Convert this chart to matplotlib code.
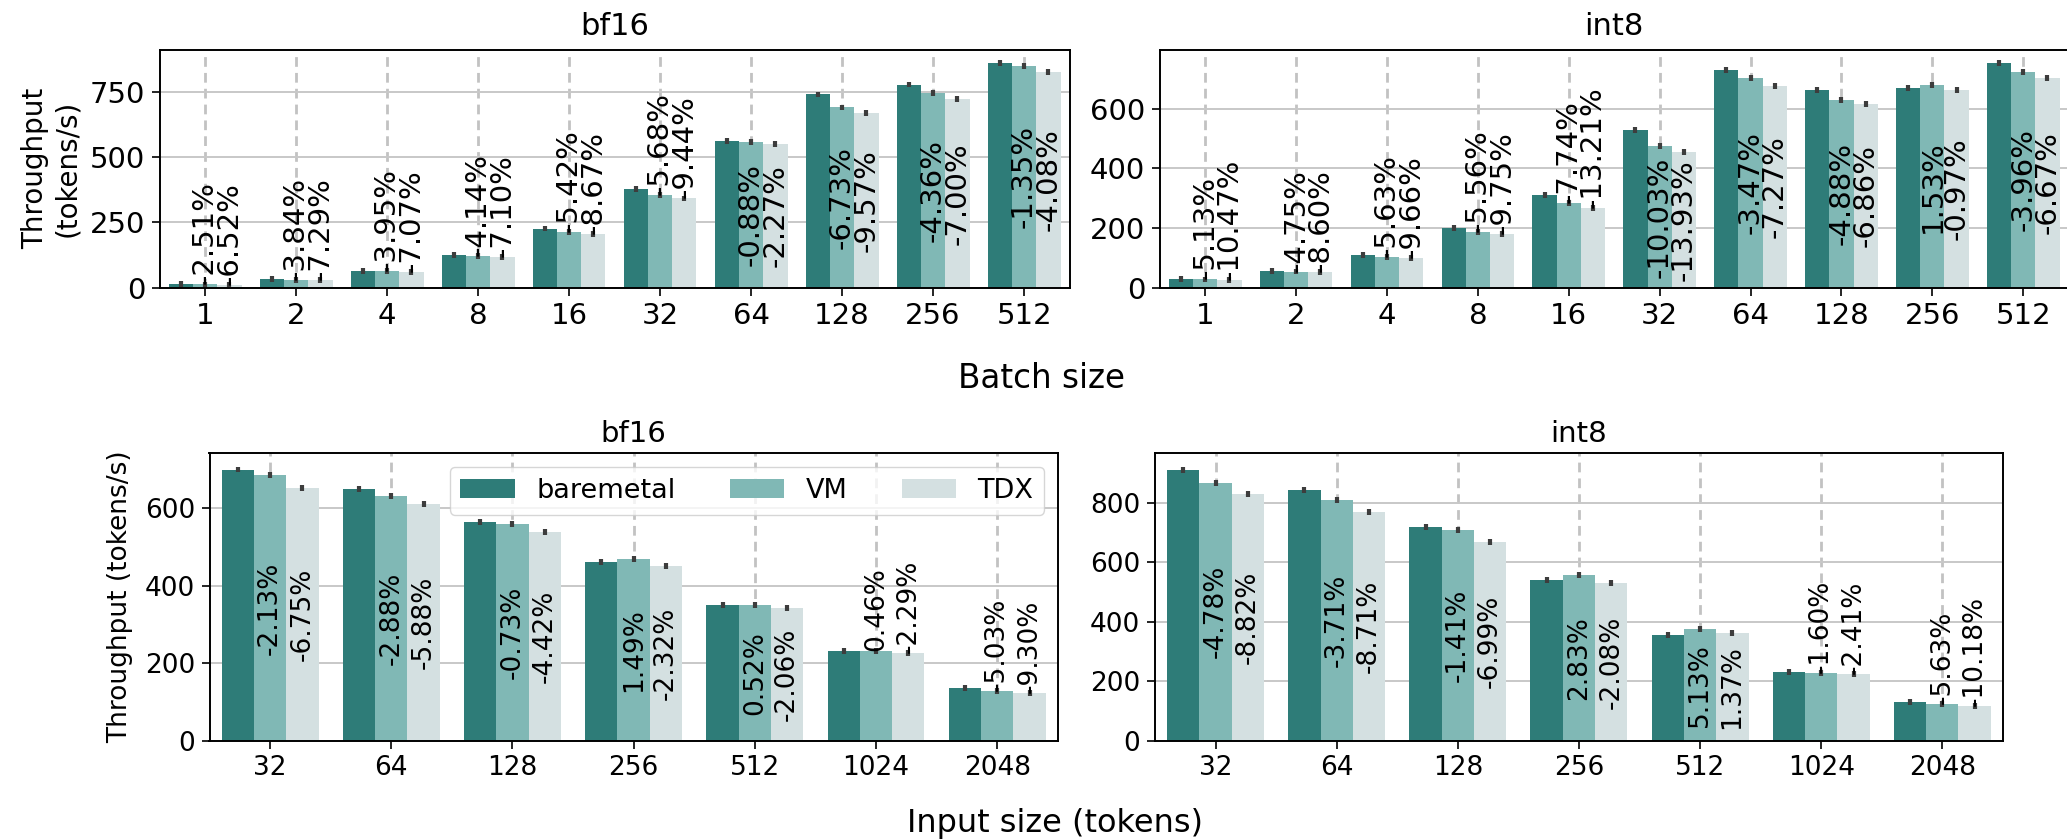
"""
Throughput of baremetal, VM and TDX runs for bf16 and int8 models.

Top row sweeps the batch size, bottom row sweeps the input length. VM and TDX
bars carry their overhead relative to baremetal as a rotated percentage.
"""
import matplotlib

matplotlib.use("Agg")
import matplotlib.pyplot as plt
import numpy as np

# Batch size sweep (tokens/s)
BATCH_SIZES = ["1", "2", "4", "8", "16", "32", "64", "128", "256", "512"]
BF16_BATCH_BARE = [13, 32, 65, 125, 226, 377, 561, 739, 777, 859]
BF16_BATCH_VM_PCT = [-2.51, -3.84, -3.95, -4.14, -5.42, -5.68, -0.88, -6.73, -4.36, -1.35]
BF16_BATCH_TDX_PCT = [-6.52, -7.29, -7.07, -7.10, -8.67, -9.44, -2.27, -9.57, -7.00, -4.08]
INT8_BATCH_BARE = [29, 57, 109.5, 199, 309.5, 528, 730, 663, 670, 754]
INT8_BATCH_VM_PCT = [-5.13, -4.75, -5.63, -5.56, -7.74, -10.03, -3.47, -4.88, 1.53, -3.96]
INT8_BATCH_TDX_PCT = [-10.47, -8.60, -9.66, -9.75, -13.21, -13.93, -7.27, -6.86, -0.97, -6.67]

# Input size sweep (tokens/s)
INPUT_SIZES = ["32", "64", "128", "256", "512", "1024", "2048"]
BF16_INPUT_BARE = [699, 649, 563, 461.5, 349, 231, 136]
BF16_INPUT_VM_PCT = [-2.13, -2.88, -0.73, 1.49, 0.52, 0.46, -5.03]
BF16_INPUT_TDX_PCT = [-6.75, -5.88, -4.42, -2.32, -2.06, -2.29, -9.30]
INT8_INPUT_BARE = [912, 842, 720.5, 542, 356, 231, 131]
INT8_INPUT_VM_PCT = [-4.78, -3.71, -1.41, 2.83, 5.13, -1.60, -5.63]
INT8_INPUT_TDX_PCT = [-8.82, -8.71, -6.99, -2.08, 1.37, -2.41, -10.18]

# half-width of the run-to-run spread drawn on every bar
CI_BF16_BATCH = 11
CI_INT8_BATCH = 10
CI_BF16_INPUT = 7.5
CI_INT8_INPUT = 10

SETUPS = ["baremetal", "VM", "TDX"]
COLORS = {"baremetal": "#2e7c78", "VM": "#80b8b5", "TDX": "#d4e0e1"}
ERR_COLOR = "#3d3d3d"
GRID_COLOR = "#c8c8c8"
DASH_COLOR = "#c2c2c2"

W, H = 2067, 840
# labels go inside the bar once it is taller than this (pixels)
INSIDE_MIN_PX = 100


def add_axes_px(fig, left, right, top, bottom):
    return fig.add_axes([left / W, 1 - bottom / H, (right - left) / W, (bottom - top) / H])


def draw_panel(ax, cats, bare, vm_pct, tdx_pct, ci, ymax, yticks, title,
               fs_tick, fs_note, fs_title, title_pad):
    vm = [b * (1 + p / 100) for b, p in zip(bare, vm_pct)]
    tdx = [b * (1 + p / 100) for b, p in zip(bare, tdx_pct)]
    series = [(bare, None), (vm, vm_pct), (tdx, tdx_pct)]

    x = np.arange(len(cats))
    w = 0.8 / 3
    ax_h_px = ax.get_position().height * H

    for i, (name, (vals, pcts)) in enumerate(zip(SETUPS, series)):
        xs = x + (i - 1) * w
        ax.bar(xs, vals, w, color=COLORS[name], label=name, linewidth=0, zorder=2)
        eb = ax.errorbar(xs, vals, yerr=ci, fmt="none", ecolor=ERR_COLOR,
                         elinewidth=3.0, capsize=0, zorder=3)
        eb[2][0].set_capstyle("butt")
        if pcts is None:
            continue
        for xi, v, p in zip(xs, vals, pcts):
            label = f"{p:.2f}%"
            if v / ymax * ax_h_px > INSIDE_MIN_PX:
                ax.text(xi, v / 2, label, rotation=90, ha="center", va="center",
                        fontsize=fs_note, zorder=4)
            else:
                ax.text(xi, v, label, rotation=90, ha="center", va="bottom",
                        fontsize=fs_note, zorder=4)

    ax.set_xlim(-0.5, len(cats) - 0.5)
    ax.set_ylim(0, ymax)
    ax.set_xticks(x)
    ax.set_xticklabels(cats)
    ax.set_yticks(yticks)
    ax.tick_params(labelsize=fs_tick, length=5.5, width=1.2, pad=5)
    ax.set_axisbelow(True)
    ax.yaxis.grid(True, color=GRID_COLOR, linewidth=1.4)
    ax.xaxis.grid(True, color=DASH_COLOR, linewidth=2.0, linestyle=(0, (3.5, 2.2)))
    for sp in ax.spines.values():
        sp.set_linewidth(1.4)
    ax.set_title(title, fontsize=fs_title, pad=title_pad)


def main():
    fig = plt.figure(figsize=(W / 100, H / 100), dpi=100)

    ax_tl = add_axes_px(fig, 159.6, 1069.6, 50, 287.7)
    ax_tr = add_axes_px(fig, 1159.8, 2068.7, 50, 287.7)
    ax_bl = add_axes_px(fig, 209.5, 1057.8, 453.3, 740.7)
    ax_br = add_axes_px(fig, 1155.0, 2002.9, 453.3, 740.7)

    draw_panel(ax_tl, BATCH_SIZES, BF16_BATCH_BARE, BF16_BATCH_VM_PCT, BF16_BATCH_TDX_PCT,
               CI_BF16_BATCH, 909, [0, 250, 500, 750], "bf16", 21, 21, 22, 10.5)
    draw_panel(ax_tr, BATCH_SIZES, INT8_BATCH_BARE, INT8_BATCH_VM_PCT, INT8_BATCH_TDX_PCT,
               CI_INT8_BATCH, 797, [0, 200, 400, 600], "int8", 21, 21, 22, 10.5)
    draw_panel(ax_bl, INPUT_SIZES, BF16_INPUT_BARE, BF16_INPUT_VM_PCT, BF16_INPUT_TDX_PCT,
               CI_BF16_INPUT, 741, [0, 200, 400, 600], "bf16", 19, 19, 21, 8)
    draw_panel(ax_br, INPUT_SIZES, INT8_INPUT_BARE, INT8_INPUT_VM_PCT, INT8_INPUT_TDX_PCT,
               CI_INT8_INPUT, 967, [0, 200, 400, 600, 800], "int8", 19, 19, 21, 8)

    ax_tl.set_ylabel("Throughput\n(tokens/s)", fontsize=20, labelpad=6)
    ax_bl.set_ylabel("Throughput (tokens/s)", fontsize=19, labelpad=8)

    ax_bl.legend(loc="upper right", ncol=3, fontsize=19.5, framealpha=0.8)

    fig.text(1041 / W, 1 - 388 / H, "Batch size", ha="center", va="baseline", fontsize=23.5)
    fig.text(1055 / W, 1 - 832 / H, "Input size (tokens)", ha="center", va="baseline",
             fontsize=23)

    fig.savefig("out.png", dpi=100)
    plt.close(fig)


if __name__ == "__main__":
    main()
